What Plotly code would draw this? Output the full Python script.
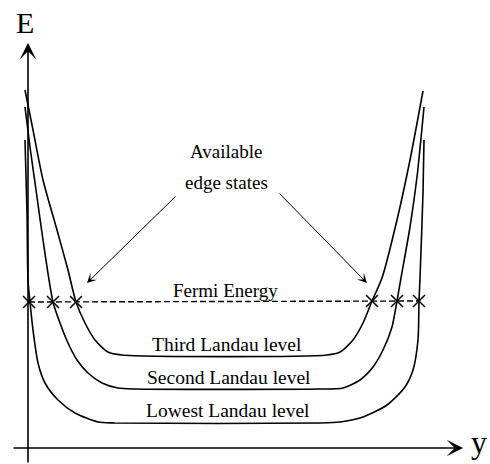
import plotly.graph_objects as go

# Coordinates (x = position y, E = energy), in picture units
W, H = 490, 464

third_x = [25, 33, 43, 57, 68, 76, 85, 95, 108, 122, 327, 340, 353, 363, 372, 382, 397, 410, 423]
third_py = [90, 130, 180, 230, 270, 302, 323, 340, 352, 355, 355, 352, 340, 323, 301, 278, 220, 160, 91]

second_x = [25, 30, 37, 43, 53, 60, 68, 77, 88, 102, 118, 135, 320, 343, 360, 373, 383, 392, 397, 401, 410, 417, 424]
second_py = [107, 147, 197, 240, 302, 323, 343, 360, 373, 383, 388, 389, 389, 388, 380, 367, 350, 327, 301, 278, 227, 177, 107]

lowest_x = [25, 27, 28, 30, 33, 38, 45, 58, 75, 98, 115, 320, 340, 363, 387, 405, 413, 418, 419, 420, 423, 424]
lowest_py = [140, 213, 280, 302, 330, 363, 383, 400, 413, 422, 423, 423, 422, 417, 405, 387, 370, 340, 301, 278, 193, 140]

fermi_x = [29, 53, 76, 372, 397, 419]
fermi_py = [302, 302, 302, 301, 301, 301]

def E(py):
    return [H - v for v in py]

FONT = "Liberation Serif"
fig = go.Figure()

for xs, pys in [(third_x, third_py), (second_x, second_py), (lowest_x, lowest_py)]:
    fig.add_trace(go.Scatter(x=xs, y=E(pys), mode="lines",
                             line=dict(color="black", width=1.6, shape="spline", smoothing=0.7),
                             hoverinfo="skip", showlegend=False))

fig.add_trace(go.Scatter(x=[fermi_x[0], fermi_x[-1]], y=E([fermi_py[0], fermi_py[-1]]), mode="lines",
                         line=dict(color="black", width=1.4, dash="6px,3px"),
                         hoverinfo="skip", showlegend=False))
fig.add_trace(go.Scatter(x=fermi_x, y=E(fermi_py), mode="markers",
                         marker=dict(symbol="x-thin", size=12, line=dict(color="black", width=1.5)),
                         hoverinfo="skip", showlegend=False))

# axes arrows
axis_arrow = dict(text="", showarrow=True, arrowhead=3, arrowsize=1.7, arrowwidth=1.6,
                  arrowcolor="black", axref="x", ayref="y", xref="x", yref="y", standoff=0)
fig.add_annotation(x=28, y=H - 43, ax=28, ay=H - 464, **axis_arrow)
fig.add_annotation(x=463, y=H - 448, ax=12, ay=H - 448, **axis_arrow)

# pointer arrows
ptr = dict(text="", showarrow=True, arrowhead=3, arrowsize=1.6, arrowwidth=1.0,
           arrowcolor="black", axref="x", ayref="y", xref="x", yref="y", standoff=0)
fig.add_annotation(x=87, y=H - 283, ax=177, ay=H - 195, **ptr)
fig.add_annotation(x=367, y=H - 283, ax=278, ay=H - 192, **ptr)

labels = [
    ("E", 25, 22, 30),
    ("y", 479, 442, 32),
    ("Available", 226, 151, 19),
    ("edge states", 226, 182, 19),
    ("Fermi Energy", 225, 290, 19),
    ("Third Landau level", 227, 344, 19.5),
    ("Second Landau level", 229, 377, 19.5),
    ("Lowest Landau level", 228, 410, 19.5),
]
for t, x, py, s in labels:
    fig.add_annotation(x=x, y=H - py, text=t, showarrow=False, xref="x", yref="y",
                       xanchor="center", yanchor="middle",
                       font=dict(family=FONT, size=s, color="black"))

fig.update_layout(width=W, height=H, margin=dict(l=0, r=0, t=0, b=0),
                  paper_bgcolor="white", plot_bgcolor="white",
                  xaxis=dict(range=[0, W], visible=False, fixedrange=True),
                  yaxis=dict(range=[0, H], visible=False, fixedrange=True))

fig.write_html("out.html")
